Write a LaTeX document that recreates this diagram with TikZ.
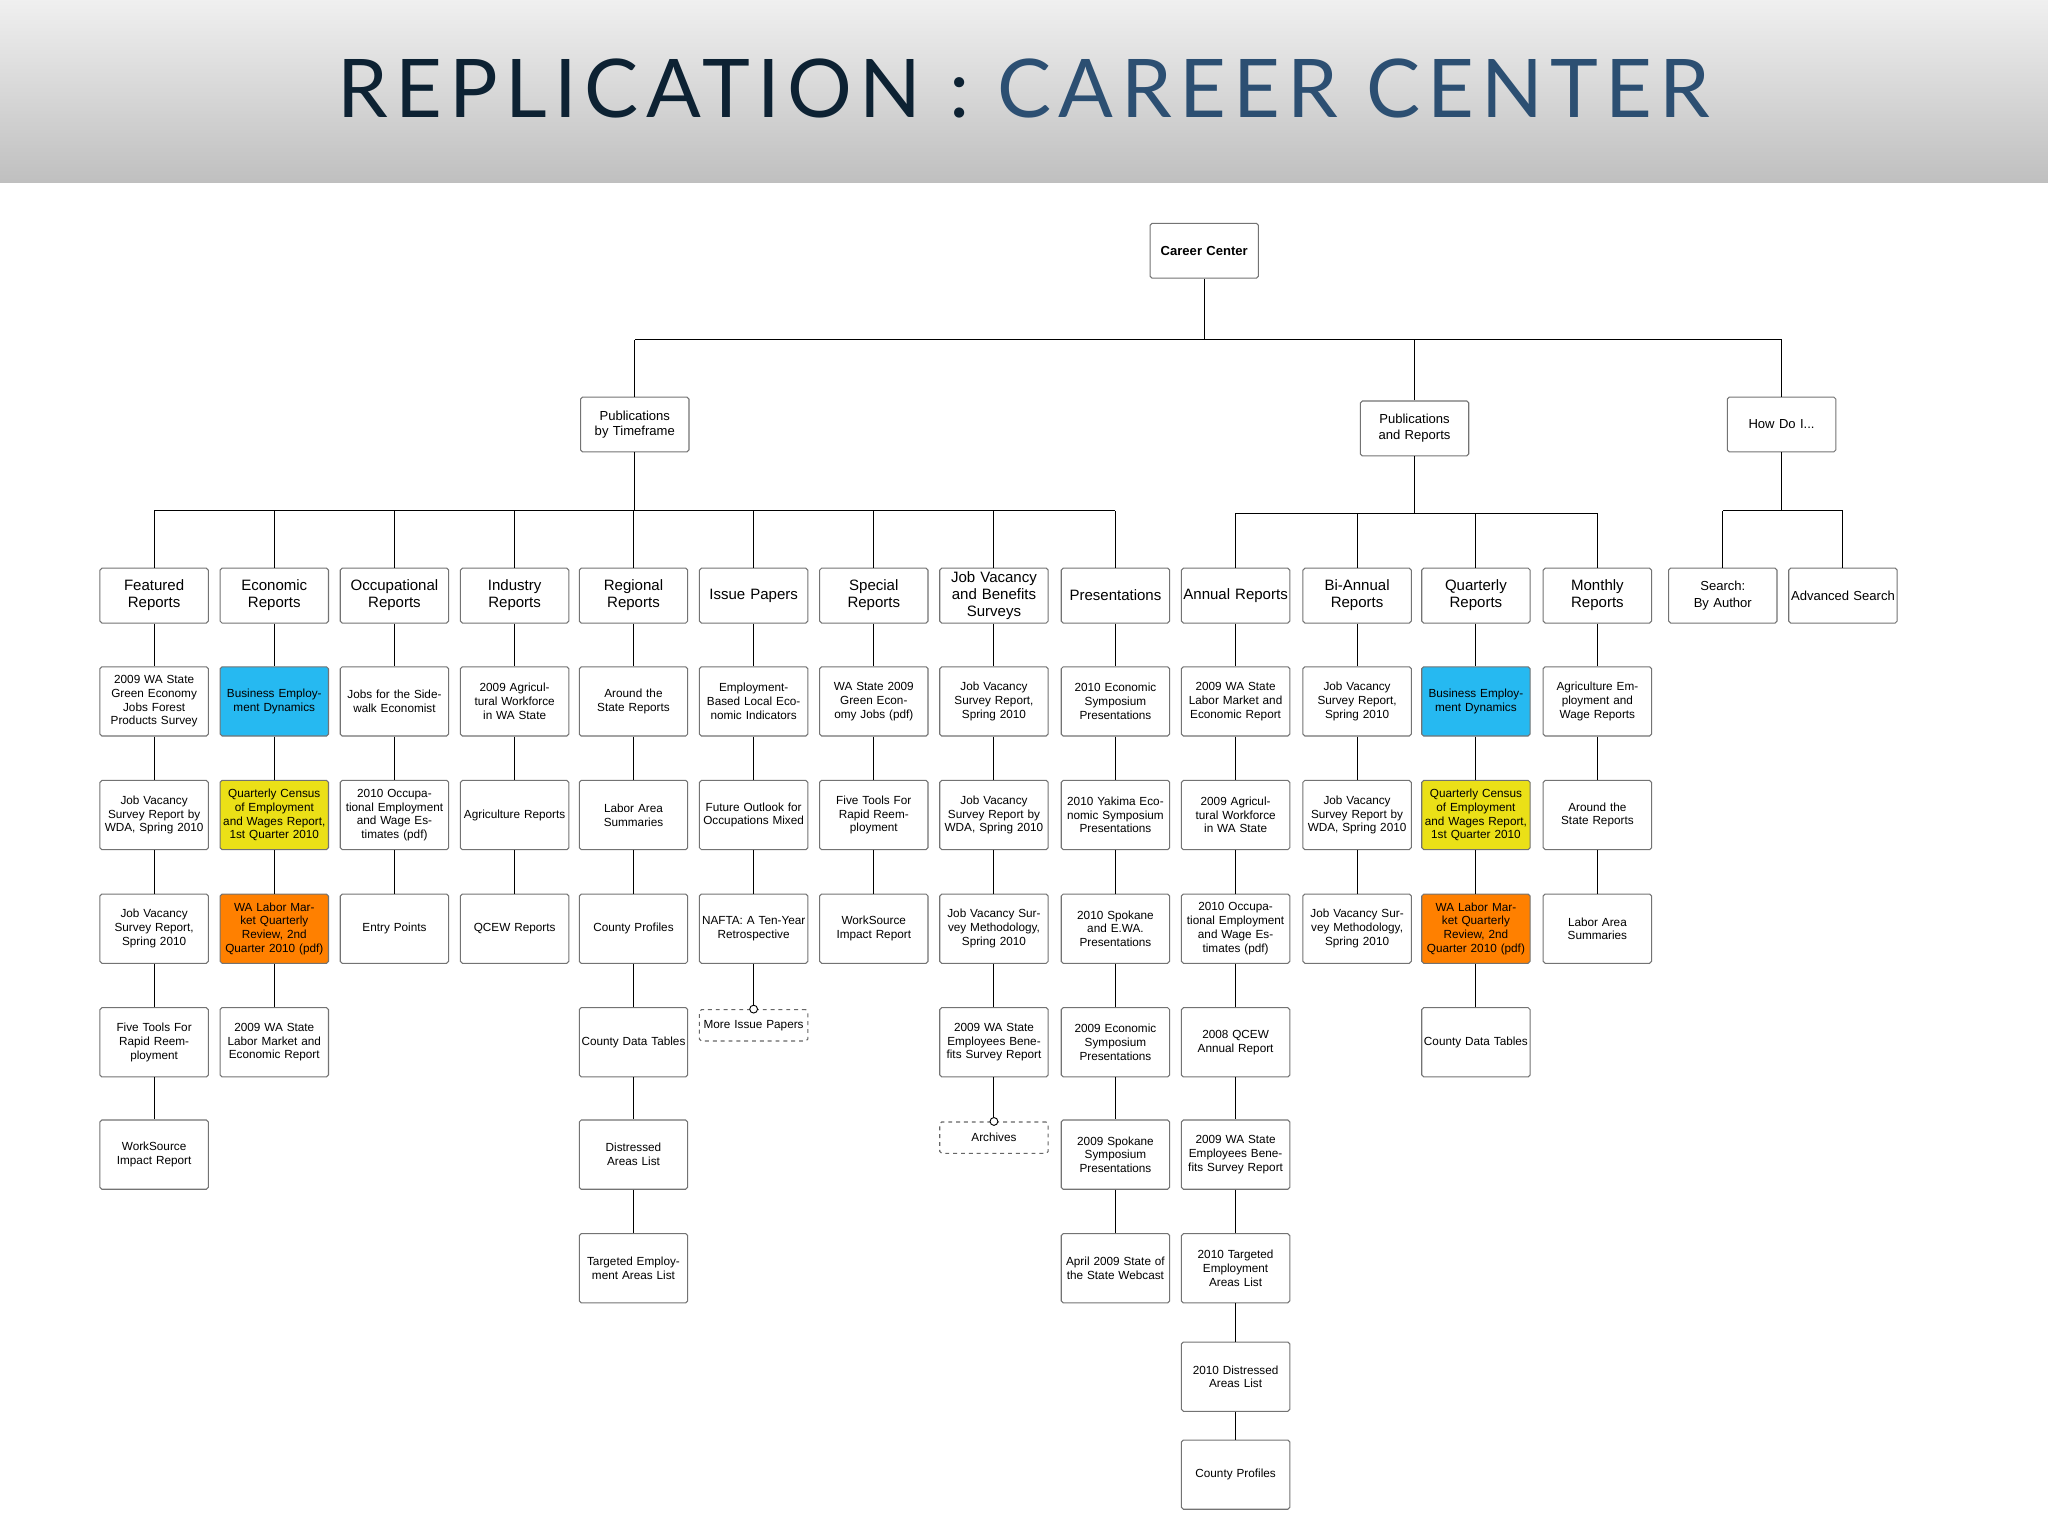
\documentclass[tikz,border=0pt]{standalone}
\usepackage{fontspec}
\setmainfont{Liberation Sans}
\newfontfamily\titlefont[LetterSpace=9]{Lato}
\def\rowy#1{\ifcase#1\or537\or624\or711\or798\or884\or971\or1054\or1129\fi}
\begin{document}
\begin{tikzpicture}[x=1pt,y=-1pt,
 box/.style={draw=black!55,line width=0.8pt,rounded corners=1.5pt,fill=white,minimum width=83pt,minimum height=53pt,inner sep=1pt,align=center,text width=80pt,font=\fontsize{9}{10.5}\selectfont},
 top/.style={box,minimum height=42pt,font=\fontsize{11.5}{13}\selectfont},
 cy/.style={box,fill=cyan!85!white},
 ye/.style={box,fill=yellow!80!olive!90},
 orng/.style={box,fill=orange},
 dbox/.style={box,dashed,minimum height=24pt,draw=black!60},
 ln/.style={draw=black,line width=0.8pt}]
\useasboundingbox (0,0) rectangle (1568,1176);
\shade[top color=black!6,bottom color=black!25] (0,0) rectangle (1568,140);
\node[font=\titlefont\fontsize{62}{62}\selectfont,anchor=center] (title) at (784,68) {\textcolor[HTML]{0D2233}{REPLICATION :} \textcolor[HTML]{2C4F72}{CAREER CENTER}};
\node[top,font=\bfseries\fontsize{10}{12}\selectfont] (root) at (922,192) {Career Center};
\node[top,font=\fontsize{10}{12}\selectfont] (pbt) at (486,325) {Publications by Timeframe};
\node[top,font=\fontsize{10}{12}\selectfont] (par) at (1083,328) {Publications and Reports};
\node[top,font=\fontsize{10}{12}\selectfont] (how) at (1364,325) {How Do I...};
\coordinate (b0) at (0,260);
\draw[ln] (root.south) -- (root.south|-b0);
\draw[ln] (pbt.north|-b0) -- (how.north|-b0);
\foreach \n in {pbt,par,how} \draw[ln] (\n.north) -- (\n.north|-b0);
\coordinate (b1) at (0,391);
\coordinate (b2) at (0,393);
\draw[ln] (pbt.south) -- (pbt.south|-b1);
\draw[ln] (par.south) -- (par.south|-b2);
\draw[ln] (how.south) -- (how.south|-b1);
% level 1
\foreach \n/\x/\t/\b in {k1/118/{Featured Reports}/b1, k2/210/{Economic Reports}/b1, k3/302/{Occupational Reports}/b1, k4/394/{Industry Reports}/b1, k5/485/{Regional Reports}/b1, k6/577/{Issue Papers}/b1, k7/669/{Special Reports}/b1, k8/761/{Job Vacancy and Benefits Surveys}/b1, k9/854/{Presentations}/b1, k10/946/{Annual Reports}/b2, k11/1039/{Bi-Annual Reports}/b2, k12/1130/{Quarterly Reports}/b2, k13/1223/{Monthly Reports}/b2, k14/1319/{Search: By Author}/b1, k15/1411/{Advanced Search}/b1}{
 \node[top,font=\fontsize{\ifnum\x>1300 10\else 11.5\fi}{13}\selectfont] (\n) at (\x,456) {\t};
 \draw[ln] (\n.north) -- (\n.north|-\b);
}
\draw[ln] (k1.north|-b1) -- (k9.north|-b1);
\draw[ln] (k10.north|-b2) -- (k13.north|-b2);
\draw[ln] (k14.north|-b1) -- (k15.north|-b1);
% rows
\newcommand\column[2]{%
 \foreach \t/\s [count=\i, remember=\i as \j (initially 0)] in {#2}{
  \node[\s] (#1r\i) at (#1.center|-{(0,\rowy{\i})}) {\t};
  \ifnum\j=0 \draw[ln] (#1.south) -- (#1r\i.north);
  \else \draw[ln] (#1r\j.south) -- (#1r\i.north); \fi
 }}
\column{k1}{{2009 WA State Green Economy Jobs Forest Products Survey}/box,{Job Vacancy Survey Report by WDA, Spring 2010}/box,{Job Vacancy Survey Report, Spring 2010}/box,{Five Tools For Rapid Reemployment}/box,{WorkSource Impact Report}/box}
\column{k2}{{Business Employment Dynamics}/cy,{Quarterly Census of Employment and Wages Report, 1st Quarter 2010}/ye,{WA Labor Market Quarterly Review, 2nd Quarter 2010 (pdf)}/orng,{2009 WA State Labor Market and Economic Report}/box}
\column{k3}{{Jobs for the Sidewalk Economist}/box,{2010 Occupational Employment and Wage Estimates (pdf)}/box,{Entry Points}/box}
\column{k4}{{2009 Agricultural Workforce in WA State}/box,{Agriculture Reports}/box,{QCEW Reports}/box}
\column{k5}{{Around the State Reports}/box,{Labor Area Summaries}/box,{County Profiles}/box,{County Data Tables}/box,{Distressed Areas List}/box,{Targeted Employment Areas List}/box}
\column{k6}{{Employment-Based Local Economic Indicators}/box,{Future Outlook for Occupations Mixed}/box,{NAFTA: A Ten-Year Retrospective}/box}
\column{k7}{{WA State 2009 Green Economy Jobs (pdf)}/box,{Five Tools For Rapid Reemployment}/box,{WorkSource Impact Report}/box}
\column{k8}{{Job Vacancy Survey Report, Spring 2010}/box,{Job Vacancy Survey Report by WDA, Spring 2010}/box,{Job Vacancy Survey Methodology, Spring 2010}/box,{2009 WA State Employees Benefits Survey Report}/box}
\column{k9}{{2010 Economic Symposium Presentations}/box,{2010 Yakima Economic Symposium Presentations}/box,{2010 Spokane and E.WA. Presentations}/box,{2009 Economic Symposium Presentations}/box,{2009 Spokane Symposium Presentations}/box,{April 2009 State of the State Webcast}/box}
\column{k10}{{2009 WA State Labor Market and Economic Report}/box,{2009 Agricultural Workforce in WA State}/box,{2010 Occupational Employment and Wage Estimates (pdf)}/box,{2008 QCEW Annual Report}/box,{2009 WA State Employees Benefits Survey Report}/box,{2010 Targeted Employment Areas List}/box,{2010 Distressed Areas List}/box,{County Profiles}/box}
\column{k11}{{Job Vacancy Survey Report, Spring 2010}/box,{Job Vacancy Survey Report by WDA, Spring 2010}/box,{Job Vacancy Survey Methodology, Spring 2010}/box}
\column{k12}{{Business Employment Dynamics}/cy,{Quarterly Census of Employment and Wages Report, 1st Quarter 2010}/ye,{WA Labor Market Quarterly Review, 2nd Quarter 2010 (pdf)}/orng,{County Data Tables}/box}
\column{k13}{{Agriculture Employment and Wage Reports}/box,{Around the State Reports}/box,{Labor Area Summaries}/box}
\node[dbox] (more) at (577,785) {More Issue Papers};
\node[dbox] (arch) at (761,871) {Archives};
\draw[ln] (k6r3.south) -- (more.north);
\draw[ln] (k8r4.south) -- (arch.north);
\draw[line width=0.7pt,fill=white] (more.north) circle (3pt);
\draw[line width=0.7pt,fill=white] (arch.north) circle (3pt);
\end{tikzpicture}
\end{document}
